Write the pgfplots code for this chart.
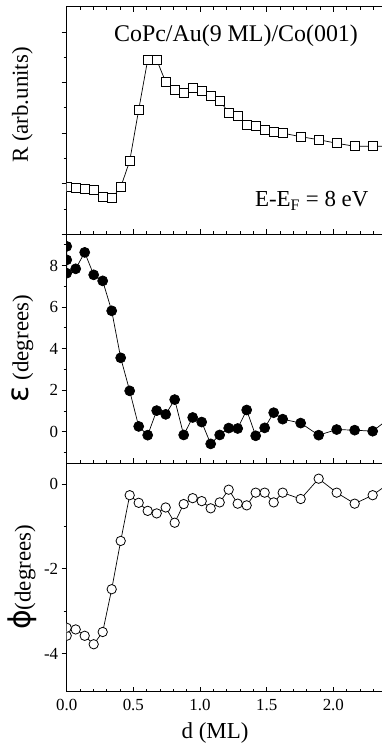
\documentclass[border=0pt]{standalone}
\usepackage{fontspec}
\setmainfont{Liberation Serif}
\newfontfamily\greek{DejaVu Sans}
\usepackage{pgfplots}
\pgfplotsset{compat=1.18}

\pgfplotstableread{
x R
0 0.93
0.0675 0.92
0.135 0.90
0.2025 0.87
0.27 0.74
0.3375 0.71
0.405 0.93
0.4725 1.45
0.54 2.46
0.6075 3.45
0.675 3.45
0.7425 3.01
0.81 2.85
0.8775 2.80
0.945 2.89
1.0125 2.84
1.08 2.74
1.1475 2.64
1.215 2.41
1.2825 2.35
1.35 2.16
1.4175 2.14
1.485 2.07
1.5525 2.03
1.62 2.00
1.755 1.93
1.89 1.87
2.025 1.80
2.16 1.74
2.295 1.74
2.43 1.74
}\tabR

\pgfplotstableread{
x E
0 8.92
0 8.27
0 7.63
0.0675 7.84
0.135 8.63
0.2025 7.55
0.27 7.26
0.3375 5.82
0.405 3.56
0.4725 1.97
0.54 0.26
0.6075 -0.16
0.675 1.02
0.7425 0.84
0.81 1.55
0.8775 -0.15
0.945 0.69
1.0125 0.47
1.08 -0.58
1.1475 -0.15
1.215 0.18
1.2825 0.16
1.35 1.05
1.4175 -0.19
1.485 0.19
1.5525 0.92
1.62 0.61
1.755 0.42
1.89 -0.16
2.025 0.11
2.16 0.08
2.295 0.03
2.43 0.70
}\tabE

\pgfplotstableread{
x P
0 -3.58
0 -3.39
0.0675 -3.43
0.135 -3.58
0.2025 -3.78
0.27 -3.49
0.3375 -2.48
0.405 -1.34
0.4725 -0.26
0.54 -0.44
0.6075 -0.63
0.675 -0.69
0.7425 -0.55
0.81 -0.91
0.8775 -0.47
0.945 -0.33
1.0125 -0.40
1.08 -0.57
1.1475 -0.43
1.215 -0.13
1.2825 -0.46
1.35 -0.50
1.4175 -0.20
1.485 -0.20
1.5525 -0.43
1.62 -0.20
1.755 -0.35
1.89 0.13
2.025 -0.20
2.16 -0.46
2.295 -0.26
2.43 0.05
}\tabP

\pgfplotsset{
  base/.style={
    scale only axis, width=318.3bp, xmin=0, xmax=2.3875,
    xtick={0,0.5,1,1.5,2},
    minor xtick={0.1,0.2,0.3,0.4,0.6,0.7,0.8,0.9,1.1,1.2,1.3,1.4,1.6,1.7,1.8,1.9,2.1,2.2,2.3},
    xtick align=inside, ytick align=outside,
    ytick pos=left,
    major tick length=5bp, minor tick length=3bp,
    axis line style={line width=0.9bp},
    every tick/.style={black, line width=0.8bp},
    tick label style={font=\rmfamily\fontsize{17}{20}\selectfont},
    xticklabel style={yshift=-4bp},
    every axis y label/.style={at={(axis description cs:-0.139,0.5)}, rotate=90, anchor=center, font=\fontsize{23}{27}\selectfont},
    every axis x label/.style={at={(axis description cs:0.466,-0.18)}, anchor=center, font=\fontsize{23}{27}\selectfont},
    clip marker paths=true,
  },
  dline/.style={black, line width=0.7bp},
}

\begin{document}
\begin{tikzpicture}
\useasboundingbox (-66.7bp,6.7bp) rectangle (315.3bp,-738.3bp);

\begin{axis}[base, at={(0,0)}, anchor=north west, height=227.6bp,
  ymin=0, ymax=4.5, ytick={0,1,2,3,4}, minor ytick={0.5,1.5,2.5,3.5},
  yticklabels={}, xticklabels={}, xtick pos=both,
  ylabel={R (arb.units)},
  every axis y label/.style={at={(axis description cs:-0.139,0.568)}, rotate=90, anchor=center, font=\fontsize{23}{27}\selectfont}]
\addplot[dline, mark=square*, mark size=4.5bp, mark options={fill=white, draw=black, line width=0.8bp, solid}] table[x=x, y=R] {\tabR};
\node[anchor=base, font=\fontsize{24}{28}\selectfont] at (axis description cs:0.532,0.846) {CoPc/Au(9 ML)/Co(001)};
\node[anchor=base east, font=\fontsize{23}{27}\selectfont] at (axis description cs:0.959,0.121) {E-E\textsubscript{F} = 8 eV};
\end{axis}

\begin{axis}[base, at={(0,-227.6bp)}, anchor=north west, height=228.7bp,
  ymin=-1.5, ymax=9.5, ytick={0,2,4,6,8}, yticklabels={0,2,4,6,8}, minor ytick={-1,1,3,5,7,9},
  xticklabels={}, xtick pos=left,
  ylabel={{\greek\fontsize{30}{30}\selectfont ε} (degrees)}]
\addplot[dline, mark=*, mark size=5bp, mark options={fill=black, draw=black, solid}] table[x=x, y=E] {\tabE};
\end{axis}

\begin{axis}[base, at={(0,-456.3bp)}, anchor=north west, height=228.7bp,
  ymin=-4.9, ymax=0.5, ytick={-4,-2,0}, yticklabels={-4,-2,0}, minor ytick={-3,-1},
  xtick pos=left, xticklabels={0.0,0.5,1.0,1.5,2.0},
  ylabel={{\greek\fontsize{30}{30}\selectfont ϕ}(degrees)},
  xlabel={d (ML)}]
\addplot[dline, mark=*, mark size=4.7bp, mark options={fill=white, draw=black, line width=0.8bp, solid}] table[x=x, y=P] {\tabP};
\end{axis}
\end{tikzpicture}
\end{document}
